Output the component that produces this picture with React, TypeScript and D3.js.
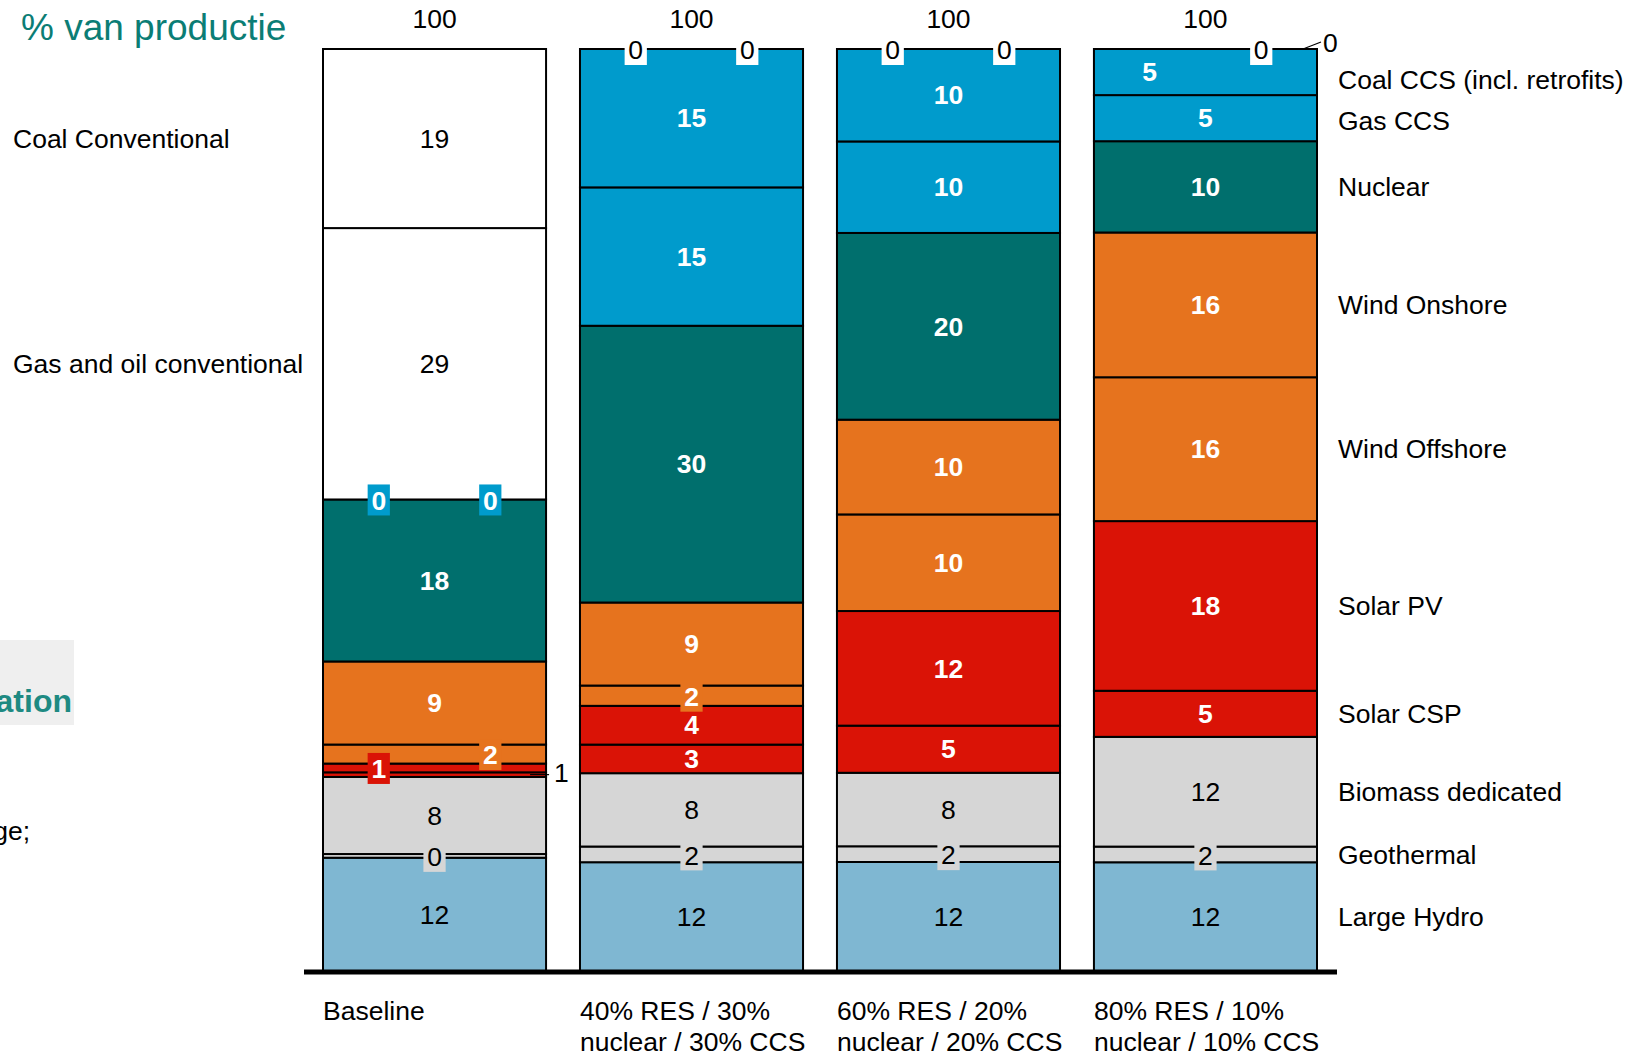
import React from "react";
import * as d3 from "d3";

// ---------- DATA ----------
const scenarios = [
  "Baseline",
  "40% RES / 30% nuclear / 30% CCS",
  "60% RES / 20% nuclear / 20% CCS",
  "80% RES / 10% nuclear / 10% CCS",
];
const scenarioLines = [
  ["Baseline"],
  ["40% RES / 30%", "nuclear / 30% CCS"],
  ["60% RES / 20%", "nuclear / 20% CCS"],
  ["80% RES / 10%", "nuclear / 10% CCS"],
];

// stacked bottom -> top
const seriesKeys = [
  "Large Hydro",
  "Geothermal",
  "Biomass dedicated",
  "Solar CSP",
  "Solar PV",
  "Wind Offshore",
  "Wind Onshore",
  "Nuclear",
  "Gas CCS",
  "Coal CCS (incl. retrofits)",
  "Gas and oil conventional",
  "Coal Conventional",
];

const largeHydro = [12.38, 11.9, 11.9, 11.9];
const geothermal = [0.4, 1.7, 1.7, 1.7];
const biomass = [8.35, 7.95, 7.95, 11.9];
const solarCSP = [0.5, 3.1, 5.1, 5.0];
const solarPV = [0.95, 4.2, 12.4, 18.4];
const windOffshore = [2.06, 2.2, 10.45, 15.6];
const windOnshore = [9.0, 9.0, 10.25, 15.7];
const nuclear = [17.55, 30, 20.2, 9.9];
const gasCCS = [0, 15, 9.9, 5];
const coalCCS = [0, 15, 10, 5];
const gasOilConv = [29.4, 0, 0, 0];
const coalConv = [19.4, 0, 0, 0];

const seriesValues: Record<string, number[]> = {
  "Large Hydro": largeHydro,
  Geothermal: geothermal,
  "Biomass dedicated": biomass,
  "Solar CSP": solarCSP,
  "Solar PV": solarPV,
  "Wind Offshore": windOffshore,
  "Wind Onshore": windOnshore,
  Nuclear: nuclear,
  "Gas CCS": gasCCS,
  "Coal CCS (incl. retrofits)": coalCCS,
  "Gas and oil conventional": gasOilConv,
  "Coal Conventional": coalConv,
};

// ---------- STYLE ----------
const colors: Record<string, string> = {
  "Large Hydro": "#7FB7D2",
  Geothermal: "#D6D6D6",
  "Biomass dedicated": "#D6D6D6",
  "Solar CSP": "#DA1306",
  "Solar PV": "#DA1306",
  "Wind Offshore": "#E6731E",
  "Wind Onshore": "#E6731E",
  Nuclear: "#006F6D",
  "Gas CCS": "#009BCC",
  "Coal CCS (incl. retrofits)": "#009BCC",
  "Gas and oil conventional": "#FFFFFF",
  "Coal Conventional": "#FFFFFF",
};
const darkText = new Set(["Large Hydro", "Geothermal", "Biomass dedicated", "Gas and oil conventional", "Coal Conventional"]);
const leftLabeled = new Set(["Gas and oil conventional", "Coal Conventional"]);

// label placement overrides: fraction of bar width, or "out" (leader line)
const labelPos: Record<string, number | "out"> = {
  "0|Coal CCS (incl. retrofits)": 0.75,
  "0|Gas CCS": 0.25,
  "0|Solar PV": 0.25,
  "0|Wind Offshore": 0.75,
  "0|Solar CSP": "out",
  "1|Gas and oil conventional": 0.25,
  "1|Coal Conventional": 0.75,
  "2|Gas and oil conventional": 0.25,
  "2|Coal Conventional": 0.75,
  "3|Gas and oil conventional": 0.75,
  "3|Coal Conventional": "out",
  "3|Coal CCS (incl. retrofits)": 0.25,
};
const legendOffset: Record<string, number> = { "Coal CCS (incl. retrofits)": 8, "Gas CCS": 3 };

const FONT = "'Liberation Sans', Arial, Helvetica, sans-serif";
const W = 1644;
const H = 1057;
const FS = 26.5;

export default function App() {
  const rows = scenarios.map((s, i) => {
    const r: any = { scenario: s };
    seriesKeys.forEach((k) => (r[k] = seriesValues[k][i]));
    return r;
  });
  const stack = d3.stack<any>().keys(seriesKeys).offset(d3.stackOffsetExpand);
  const layers = stack(rows);

  const x = d3.scaleBand<string>().domain(scenarios).range([323, 1317]).paddingInner(0.132).paddingOuter(0);
  const y = d3.scaleLinear().domain([0, 1]).range([972, 49]);
  const bw = x.bandwidth();

  const rects: React.ReactNode[] = [];
  const labels: React.ReactNode[] = [];

  layers.forEach((layer) => {
    const key = layer.key;
    layer.forEach((d, i) => {
      const sc = scenarios[i];
      const x0 = x(sc)!;
      const yTop = y(d[1]);
      const yBot = y(d[0]);
      const h = yBot - yTop;
      rects.push(
        <rect key={`r-${key}-${i}`} x={x0} y={yTop} width={bw} height={Math.max(h, 0)}
          fill={colors[key]} stroke="#000" strokeWidth={2} />
      );
      const v = seriesValues[key][i];
      const txt = String(Math.round(v));
      const cy = (yTop + yBot) / 2;
      const pos = labelPos[`${i}|${key}`] ?? 0.5;
      const dark = darkText.has(key);
      const fw = dark ? "normal" : "bold";
      const tc = dark ? "#000" : "#fff";
      if (pos === "out") {
        const xr = x0 + bw;
        if (i === 0) {
          labels.push(
            <g key={`l-${key}-${i}`}>
              <line x1={xr - 16} x2={xr + 3} y1={cy} y2={cy} stroke="#000" strokeWidth={1.2} />
              <text x={xr + 8} y={cy - 2} dy="0.35em" fontSize={FS} fontFamily={FONT} fill="#000">{txt}</text>
            </g>
          );
        } else {
          labels.push(
            <g key={`l-${key}-${i}`}>
              <line x1={xr - 14} x2={xr + 4} y1={cy} y2={cy - 7} stroke="#000" strokeWidth={1.2} />
              <text x={xr + 6} y={cy - 6} dy="0.35em" fontSize={FS} fontFamily={FONT} fill="#000">{txt}</text>
            </g>
          );
        }
        return;
      }
      const cx = x0 + bw * pos;
      const needBox = h < 26;
      const tw = txt.length * 0.556 * FS;
      labels.push(
        <g key={`l-${key}-${i}`}>
          {needBox && (
            <rect x={cx - tw / 2 - 3.75} y={cy - 15} width={tw + 7.5} height={31} fill={colors[key]} />
          )}
          <text x={cx} y={needBox ? cy + 1 : cy} dy="0.35em" textAnchor="middle" fontSize={FS}
            fontFamily={FONT} fontWeight={fw} fill={tc}>{txt}</text>
        </g>
      );
    });
  });

  const totals = scenarios.map((_, i) => Math.round(d3.sum(seriesKeys, (k) => seriesValues[k][i])));

  const last = scenarios.length - 1;
  const legend = layers
    .filter((l) => !leftLabeled.has(l.key))
    .map((l) => {
      const d = l[last];
      const cy = (y(d[0]) + y(d[1])) / 2 + (legendOffset[l.key] ?? 0);
      return (
        <text key={`lg-${l.key}`} x={1338} y={cy} dy="0.35em" fontSize={FS} fontFamily={FONT} fill="#000">
          {l.key}
        </text>
      );
    });
  const leftLegend = layers
    .filter((l) => leftLabeled.has(l.key))
    .map((l) => {
      const d = l[0];
      const cy = (y(d[0]) + y(d[1])) / 2;
      return (
        <text key={`ll-${l.key}`} x={13} y={cy} dy="0.35em" fontSize={FS} fontFamily={FONT} fill="#000">
          {l.key}
        </text>
      );
    });

  return (
    <svg width={W} height={H} viewBox={`0 0 ${W} ${H}`}
      style={{ position: "absolute", left: 0, top: 0, background: "#fff" }}>
      <rect x={0} y={0} width={W} height={H} fill="#fff" />
      {/* cropped slide remnants */}
      <rect x={0} y={640} width={74} height={85} fill="#EFEFEF" />
      <text x={72} y={712} textAnchor="end" fontSize={32} fontWeight="bold" fontFamily={FONT} fill="#1E8A82">ation</text>
      <text x={30} y={831} dy="0.35em" textAnchor="end" fontSize={FS} fontFamily={FONT} fill="#000">ge;</text>

      <text x={21} y={40} fontSize={37} fontFamily={FONT} fill="#0B7D75">% van productie</text>

      {rects}
      {labels}

      {scenarios.map((s, i) => (
        <text key={`t-${i}`} x={x(s)! + bw / 2} y={28} textAnchor="middle" fontSize={FS} fontFamily={FONT} fill="#000">
          {totals[i]}
        </text>
      ))}

      <line x1={304} x2={1337} y1={972} y2={972} stroke="#000" strokeWidth={5} />

      {scenarios.map((s, i) => (
        <text key={`c-${i}`} x={x(s)!} y={1020} fontSize={FS} fontFamily={FONT} fill="#000">
          {scenarioLines[i].map((ln, j) => (
            <tspan key={j} x={x(s)!} y={1020 + j * 31}>{ln}</tspan>
          ))}
        </text>
      ))}

      {legend}
      {leftLegend}
    </svg>
  );
}
